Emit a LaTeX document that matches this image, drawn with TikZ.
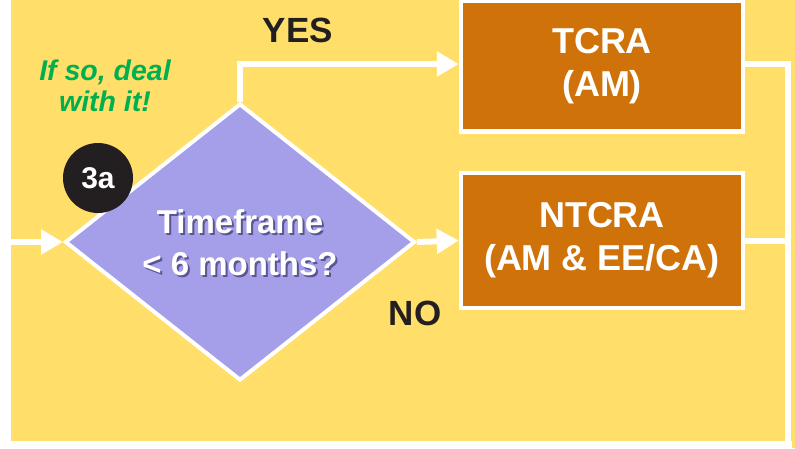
\documentclass[tikz,border=0pt]{standalone}
\usepackage{fontspec}
\setmainfont{Liberation Sans}
\usetikzlibrary{arrows.meta,shapes.geometric}

\definecolor{bgyellow}{HTML}{FFDE69}
\definecolor{boxorange}{HTML}{D0720A}
\definecolor{decisionblue}{HTML}{A59FEA}
\definecolor{hintgreen}{HTML}{00B050}
\definecolor{inkblack}{HTML}{231F20}
\definecolor{shadowblue}{HTML}{5A5590}

\tikzset{
  flowline/.style={white,line width=6pt},
  flowarrow/.style={flowline,-{Triangle[length=22pt,width=24pt]}},
  actionbox/.style={draw=white,line width=4.5pt,fill=boxorange,
    text=white,font=\bfseries\fontsize{36}{43}\selectfont,align=center,
    minimum width=282pt,inner sep=0pt},
  decision/.style={diamond,draw=white,line width=4pt,fill=decisionblue,
    minimum width=350pt,minimum height=277pt,inner sep=0pt},
  decisiontext/.style={font=\bfseries\fontsize{33}{42}\selectfont,align=center},
  answer/.style={text=inkblack,font=\bfseries\fontsize{35}{40}\selectfont}
}

\begin{document}
\begin{tikzpicture}[x=1pt,y=-1pt]
  \useasboundingbox (0,0) rectangle (795,448);
  % background
  \fill [bgyellow] (11,0) rectangle (795,441);
  \fill [bgyellow] (792,441) rectangle (795,448);

  % decision
  \node [decision] (dia) at (240,242) {};
  \node [decisiontext,text=shadowblue] (diashadow) at (242,245)
    {Timeframe\\< 6 months?};
  \node [decisiontext,text=white] (diatext) at (240,243)
    {Timeframe\\< 6 months?};

  % actions
  \node [actionbox,minimum height=131pt] (tcra) at (602,66) {TCRA\\(AM)};
  \node [actionbox,minimum height=135pt] (ntcra) at (602,240.5)
    {NTCRA\\(AM \& EE/CA)};

  % step marker and hint
  \node [circle,fill=inkblack,minimum size=70pt,inner sep=0pt,text=white,
    font=\bfseries\fontsize{30}{36}\selectfont] (step) at (98,178) {3a};
  \node [text=hintgreen,align=center,
    font=\bfseries\itshape\fontsize{28.5}{31}\selectfont] (hint) at (105,86)
    {If so, deal\\with it!};

  % answers
  \node [answer] (yes) at (298,30) {YES};
  \node [answer] (no) at (415,313) {NO};

  % connectors
  \coordinate (entry) at (11,242);
  \coordinate (bend) at (240,64);
  \coordinate (railtop) at (788,64);
  \coordinate (railend) at (788,448);
  \draw [flowarrow] (entry) -- (dia.west);
  \draw [flowarrow] (dia.north) -- (bend) -- (bend -| tcra.west);
  \draw [flowarrow] (dia.east) -- (ntcra.west);
  \draw [flowline] (tcra.east |- railtop) -- (railtop) -- (railend);
  \draw [flowline] (ntcra.east) -- (ntcra.east -| railtop);
\end{tikzpicture}
\end{document}
